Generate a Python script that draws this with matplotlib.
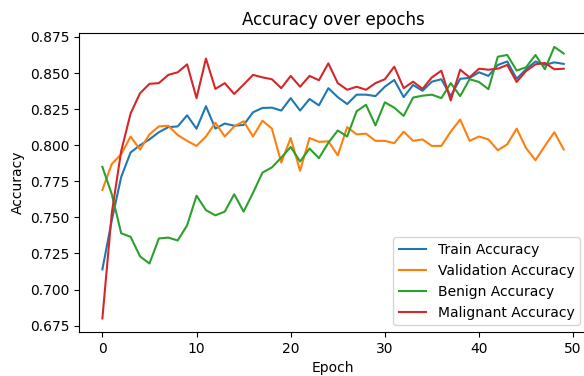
import numpy as np
import matplotlib
matplotlib.use("Agg")
import matplotlib.pyplot as plt

# accuracy per epoch
train_acc = [0.714, 0.748, 0.778, 0.795, 0.800, 0.804, 0.809, 0.8125, 0.813, 0.8207,
             0.8114, 0.827, 0.8115, 0.815, 0.8135, 0.814, 0.8228, 0.8258, 0.826, 0.824,
             0.8326, 0.824, 0.832, 0.8276, 0.8395, 0.8333, 0.8285, 0.835, 0.835, 0.834,
             0.8405, 0.8452, 0.8333, 0.8417, 0.8377, 0.844, 0.8457, 0.834, 0.846, 0.8466,
             0.8505, 0.848, 0.8556, 0.858, 0.846, 0.8526, 0.858, 0.8556, 0.8574, 0.8563]
val_acc = [0.769, 0.787, 0.7937, 0.806, 0.797, 0.8075, 0.813, 0.8135, 0.807, 0.803,
           0.7995, 0.806, 0.8155, 0.806, 0.813, 0.8166, 0.806, 0.817, 0.8115, 0.788,
           0.805, 0.7823, 0.805, 0.8023, 0.8027, 0.793, 0.8125, 0.8075, 0.808, 0.803,
           0.803, 0.8014, 0.8094, 0.803, 0.804, 0.7995, 0.7995, 0.8094, 0.8178, 0.803,
           0.806, 0.804, 0.7965, 0.8006, 0.8115, 0.798, 0.7896, 0.7995, 0.809, 0.797]
benign_acc = [0.785, 0.766, 0.739, 0.7365, 0.723, 0.718, 0.7354, 0.736, 0.734, 0.7445,
              0.765, 0.755, 0.7514, 0.754, 0.766, 0.754, 0.767, 0.781, 0.7846, 0.7914,
              0.7988, 0.7887, 0.7977, 0.791, 0.8017, 0.8102, 0.806, 0.8235, 0.828, 0.8137,
              0.8297, 0.826, 0.8203, 0.833, 0.8343, 0.835, 0.8326, 0.843, 0.834, 0.8457,
              0.8438, 0.8388, 0.8613, 0.8625, 0.8517, 0.854, 0.8625, 0.8526, 0.8681, 0.8635]
malignant_acc = [0.680, 0.753, 0.796, 0.822, 0.836, 0.8425, 0.843, 0.8487, 0.8505, 0.856,
                 0.8326, 0.860, 0.839, 0.843, 0.8355, 0.842, 0.8487, 0.847, 0.8457, 0.8395,
                 0.848, 0.8405, 0.848, 0.845, 0.8567, 0.843, 0.8384, 0.8405, 0.8384, 0.843,
                 0.8457, 0.8544, 0.8395, 0.844, 0.839, 0.847, 0.8516, 0.831, 0.8523, 0.847,
                 0.853, 0.8523, 0.853, 0.8556, 0.8438, 0.8514, 0.856, 0.857, 0.8526, 0.853]

epochs = np.arange(len(train_acc))

fig = plt.figure(figsize=(5.84, 3.76), dpi=100)
# right edge runs a bit past the figure, like the cropped reference
ax = fig.add_axes([0.1358, 0.117, 0.869, 0.7944])

ax.plot(epochs, train_acc, label="Train Accuracy")
ax.plot(epochs, val_acc, label="Validation Accuracy")
ax.plot(epochs, benign_acc, label="Benign Accuracy")
ax.plot(epochs, malignant_acc, label="Malignant Accuracy")

ax.set_title("Accuracy over epochs")
ax.set_xlabel("Epoch")
ax.set_ylabel("Accuracy")
ax.set_xticks([0, 10, 20, 30, 40, 50])
ax.legend(loc="lower right")

fig.savefig("out.png", dpi=100)
